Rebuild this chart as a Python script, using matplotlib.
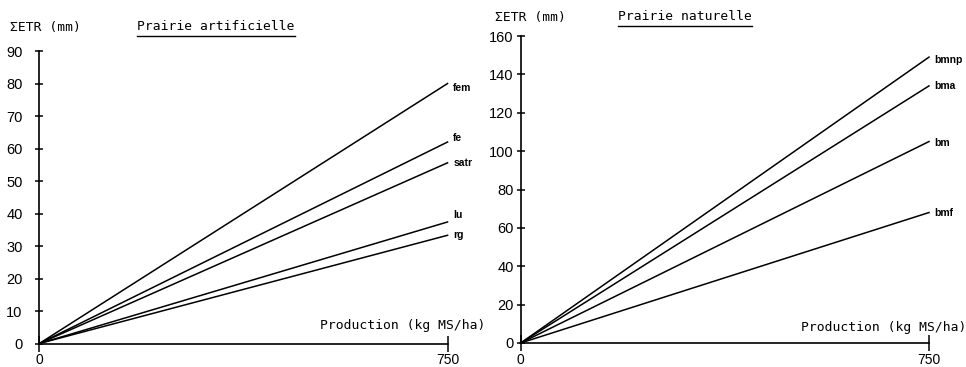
import matplotlib
matplotlib.use('Agg')
import matplotlib.pyplot as plt
from matplotlib.lines import Line2D

# Production axis (kg MS/ha)
production = [0, 750]

# Prairie artificielle : cumulated ETR (mm) at 0 and 750 kg MS/ha
art_names = ['fem', 'fe', 'satr', 'lu', 'rg']
art_end = [80, 62, 55.6, 37.4, 33.3]

# Prairie naturelle
nat_names = ['bmnp', 'bma', 'bm', 'bmf']
nat_end = [149, 134, 105, 68]

art_yticks = [0, 10, 20, 30, 40, 50, 60, 70, 80, 90]
nat_yticks = [0, 20, 40, 60, 80, 100, 120, 140, 160]

W, H = 966, 367
fig = plt.figure(figsize=(W / 100, H / 100), dpi=100)
mono = 'DejaVu Sans Mono'
sans = 'Liberation Sans'


def px(x, y):
    return x / W, 1 - y / H


def setup(ax, ymax, yticks, pad):
    ax.set_xlim(0, 750)
    ax.set_ylim(0, ymax)
    for s in ['top', 'right']:
        ax.spines[s].set_visible(False)
    for s in ['left', 'bottom']:
        ax.spines[s].set_linewidth(1.2)
    ax.set_yticks(yticks)
    ax.set_xticks([0, 750])
    ax.set_xticklabels(['0', '750'], fontfamily=sans, fontsize=10)
    ax.tick_params(axis='y', direction='inout', length=6, width=1.1,
                   pad=pad, labelsize=10.5)
    ax.tick_params(axis='x', direction='inout', length=12, width=1.1,
                   pad=1)
    for lab in ax.get_yticklabels():
        lab.set_fontfamily(sans)


def draw_lines(ax, names, ends, dys):
    for name, end, dy in zip(names, ends, dys):
        ax.plot(production, [0, end], color='black', lw=1.1, clip_on=False)
        ax.annotate(name, (750, end), xytext=(4, dy), textcoords='offset points',
                    fontfamily=sans, fontweight='bold', fontsize=7.5,
                    va='center', ha='left', annotation_clip=False)


ax1 = fig.add_axes([0.0407, 0.064, 0.4226, 0.797])
setup(ax1, 90, art_yticks, 9)
draw_lines(ax1, art_names, art_end, [-3, 3, 0, 5, 0])

ax2 = fig.add_axes([0.539, 0.0654, 0.4227, 0.8365])
setup(ax2, 160, nat_yticks, 2)
draw_lines(ax2, nat_names, nat_end, [-2, 0, -1, 0])

fig.text(*px(10, 28), 'ΣETR (mm)', fontfamily=mono, fontsize=9.4, va='center')
fig.text(*px(495, 18), 'ΣETR (mm)', fontfamily=mono, fontsize=9.4, va='center')
t1 = fig.text(*px(137, 27), 'Prairie artificielle', fontfamily=mono,
              fontsize=9.4, va='center')
t2 = fig.text(*px(618, 17), 'Prairie naturelle', fontfamily=mono,
              fontsize=9.4, va='center')
fig.text(*px(320, 325), 'Production (kg MS/ha)', fontfamily=mono,
         fontsize=9.4, va='center')
fig.text(*px(801, 327), 'Production (kg MS/ha)', fontfamily=mono,
         fontsize=9.4, va='center')

# underline the titles
fig.canvas.draw()
for t in [t1, t2]:
    bb = t.get_window_extent()
    y = (bb.y0 - 2) / H
    fig.add_artist(Line2D([bb.x0 / W, bb.x1 / W], [y, y], color='black', lw=1.0))

fig.savefig('out.png', dpi=100)
